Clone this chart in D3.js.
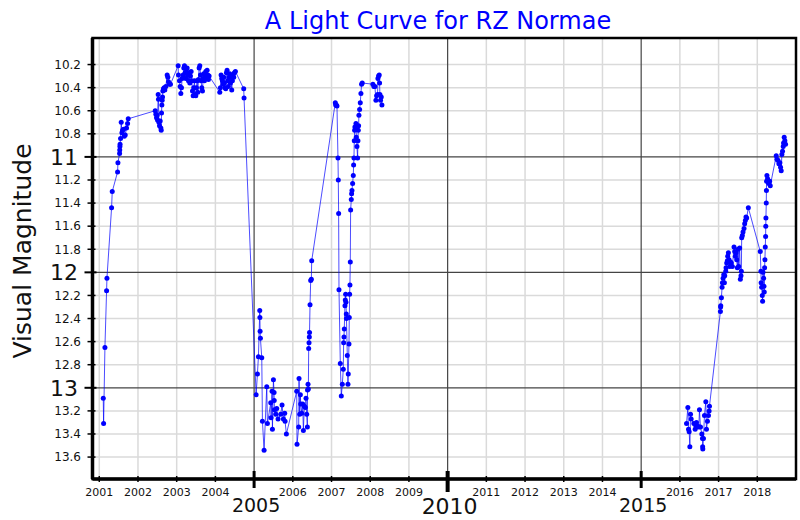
<!DOCTYPE html>
<html><head><meta charset="utf-8">
<script src="https://cdn.jsdelivr.net/npm/d3@7"></script>
<style>body{margin:0;background:#fff}svg{display:block}</style>
</head><body><svg id="c" width="800" height="520"></svg>
<script>
// ---- Data: observation epochs (decimal year) and visual magnitudes ----
const epochA_year = [
 2001.103,2001.112,2001.146,2001.189,2001.198,2001.318,2001.335,2001.473,2001.482,2001.525,2001.529,2001.533,2001.537,2001.550,2001.567,2001.585,2001.602,2001.628,2001.645,2001.671,2001.705,2001.731,2001.748,
 2002.445,2002.462,2002.479,2002.495,2002.505,2002.522,2002.530,2002.539,2002.556,2002.574,2002.591,2002.600,2002.608,2002.617,2002.625,2002.634,2002.642,2002.659,2002.677,2002.694,2002.720,2002.754,2002.771,2002.788,2002.814,2002.840,
 2003.038,2003.046,2003.072,2003.089,2003.107,2003.124,2003.141,2003.167,2003.184,2003.201,2003.218,2003.236,2003.253,2003.270,2003.287,2003.304,2003.322,2003.339,2003.356,2003.373,2003.390,2003.408,2003.425,2003.442,2003.459,2003.476,2003.494,2003.511,2003.528,2003.545,2003.562,2003.580,2003.597,2003.614,2003.631,2003.648,2003.666,2003.683,2003.700,2003.717,2003.734,2003.752,2003.769,2003.786,2003.803,2003.820,2003.838,
 2004.113,2004.130,2004.147,2004.164,2004.181,2004.199,2004.216,2004.233,2004.250,2004.267,2004.285,2004.302,2004.319,2004.336,2004.353,2004.371,2004.388,2004.405,2004.422,2004.439,2004.457,2004.474,2004.491,2004.517,2004.732,2004.740,
 2005.052,2005.086,2005.112,2005.146,2005.150,2005.155,2005.163,2005.198,2005.215,2005.258,2005.327,2005.344,2005.430,2005.439,2005.464,2005.473,2005.499,2005.516,2005.520,2005.525,2005.559,2005.585,2005.619,2005.688,2005.722,2005.757,2005.791,2005.800,2005.834,
 2006.101,2006.109,2006.152,2006.161,2006.178,2006.195,2006.204,2006.230,2006.255,2006.273,2006.298,2006.324,2006.341,2006.359,2006.376,2006.380,2006.393,2006.402,2006.410,2006.419,2006.427,2006.432,2006.445,2006.462,2006.479,2006.488,
 2007.098,2007.107,2007.124,2007.141,2007.167,2007.175,2007.184,2007.193,2007.227,2007.253,2007.279,2007.304,2007.313,2007.322,2007.330,2007.347,2007.356,2007.365,2007.373,2007.382,2007.386,2007.408,2007.425,2007.433,2007.451,2007.459,2007.468,2007.476,2007.485,2007.494,2007.511,2007.519,2007.528,2007.545,2007.562,2007.571,2007.580,2007.588,2007.597,2007.605,2007.623,2007.631,2007.640,2007.657,2007.674,2007.683,2007.691,2007.700,2007.708,2007.726,2007.743,2007.760,2007.777,2007.794,
 2008.069,2008.095,2008.121,2008.147,2008.164,2008.190,2008.199,2008.216,2008.233,2008.242,2008.250,2008.267,2008.285,2008.302
];
const epochA_mag = [
 13.09,13.31,12.65,12.16,12.05,11.44,11.30,11.13,11.05,10.97,10.94,10.91,10.89,10.84,10.70,10.79,10.77,10.76,10.82,10.81,10.75,10.71,10.67,
 10.60,10.63,10.66,10.64,10.68,10.46,10.50,10.70,10.73,10.69,10.75,10.77,10.62,10.55,10.51,10.48,10.43,10.41,10.40,10.42,10.39,10.29,10.31,10.35,10.37,10.37,
 10.21,10.29,10.34,10.39,10.45,10.40,10.32,10.29,10.23,10.21,10.27,10.32,10.26,10.23,10.29,10.34,10.27,10.36,10.30,10.26,10.34,10.43,10.47,10.40,10.34,10.46,10.47,10.40,10.34,10.44,10.33,10.23,10.21,10.29,10.34,10.40,10.43,10.32,10.28,10.34,10.30,10.26,10.31,10.25,10.29,10.33,10.30,
 10.44,10.40,10.29,10.32,10.34,10.37,10.31,10.36,10.40,10.41,10.27,10.25,10.34,10.39,10.31,10.28,10.36,10.31,10.42,10.34,10.29,10.31,10.27,10.26,10.41,10.49,
 13.06,12.88,12.73,12.33,12.39,12.51,12.57,12.74,13.29,13.54,12.99,13.31,13.13,13.26,13.03,13.36,12.93,13.04,13.11,13.19,13.23,13.18,13.27,13.23,13.15,13.27,13.22,13.29,13.40,
 13.03,13.49,13.34,12.92,13.23,13.06,13.14,13.22,13.14,13.37,13.16,13.17,13.09,13.23,13.34,13.02,12.97,13.01,12.66,12.61,12.56,12.52,12.28,12.07,12.06,11.90,
 10.53,10.55,10.55,10.56,11.01,11.20,11.49,12.15,12.79,13.07,12.97,12.84,12.61,12.56,12.49,12.29,12.24,12.19,12.26,12.36,12.40,12.72,12.97,12.88,12.62,12.39,12.19,12.11,11.91,11.46,11.37,11.32,11.29,11.23,11.16,11.07,11.01,10.86,10.77,10.74,10.76,10.71,10.83,10.91,11.01,10.86,10.77,10.73,10.64,10.59,10.53,10.45,10.37,10.36,
 10.37,10.39,10.39,10.51,10.47,10.46,10.32,10.30,10.29,10.36,10.46,10.51,10.48,10.55
];
const epochB_year = [
 2016.172,2016.206,2016.223,2016.240,2016.258,2016.275,2016.292,2016.361,2016.395,2016.412,2016.429,2016.455,2016.489,2016.506,2016.532,2016.567,2016.584,2016.588,2016.592,2016.609,2016.635,2016.670,2016.687,2016.712,2016.738,2016.755,2016.764,
 2017.047,2017.052,2017.056,2017.073,2017.090,2017.099,2017.116,2017.133,2017.150,2017.159,2017.185,2017.193,2017.210,2017.227,2017.236,2017.253,2017.270,2017.288,2017.305,2017.330,2017.356,2017.399,2017.416,2017.433,2017.451,2017.468,2017.485,2017.502,2017.519,2017.545,2017.562,2017.579,2017.588,2017.597,2017.614,2017.631,2017.657,2017.674,2017.691,2017.708,2017.725,2017.768,
 2018.077,2018.094,2018.099,2018.112,2018.129,2018.137,2018.146,2018.163,2018.172,2018.180,2018.189,2018.197,2018.206,2018.215,2018.219,2018.223,2018.232,2018.236,2018.240,2018.249,2018.266,2018.283,2018.300,2018.318,2018.335,2018.489,2018.506,2018.532,2018.558,2018.584,2018.601,2018.618,2018.635,2018.652,2018.670,2018.678,2018.695,2018.712,2018.730
];
const epochB_mag = [
 13.31,13.17,13.36,13.38,13.51,13.23,13.27,13.31,13.36,13.33,13.30,13.33,13.34,13.19,13.34,13.40,13.44,13.51,13.53,13.44,13.24,13.12,13.36,13.29,13.24,13.20,13.16,
 12.34,12.30,12.29,12.22,12.13,12.09,12.05,12.02,12.09,12.03,11.99,11.96,11.92,11.90,11.86,11.83,11.89,11.95,11.91,11.92,11.95,11.78,11.82,11.86,11.83,11.89,11.96,11.80,11.95,11.79,12.06,12.03,11.99,11.70,11.68,11.65,11.62,11.58,11.55,11.52,11.53,11.44,
 11.82,11.99,12.09,12.13,12.20,12.25,12.00,12.05,12.12,12.17,11.96,11.89,11.78,11.69,11.60,11.53,11.40,11.29,11.21,11.16,11.19,11.22,11.23,11.21,11.25,10.99,11.02,11.03,11.06,11.05,11.09,11.12,10.98,10.95,10.91,10.88,10.83,10.86,10.89
];
const xTickYears = [2001,2002,2003,2004,2005,2006,2007,2008,2009,2010,2011,2012,2013,2014,2015,2016,2017,2018];
const xMajorYears = [2005, 2010, 2015];
const yTickMags = [10.2,10.4,10.6,10.8,11,11.2,11.4,11.6,11.8,12,12.2,12.4,12.6,12.8,13,13.2,13.4,13.6];
const yMajorMags = [11, 12, 13];
const titleText = "A Light Curve for RZ Normae";
const yLabelText = "Visual Magnitude";

// ---- Layout ----
const L = 92.5, R = 796, T = 38, B = 479;
const svg = d3.select("#c");
const FONT = "DejaVu Sans, sans-serif";
const x = d3.scaleLinear().domain([2000.825, 2019.0]).range([L, R]);
const y = d3.scaleLinear().domain([9.97, 13.79]).range([T, B]);
const isMajX = v => xMajorYears.includes(v);
const isMajY = v => yMajorMags.some(m => Math.abs(m - v) < 1e-6);

const g = svg.append("g");
// minor grid
g.selectAll(".gxm").data(xTickYears.filter(v => !isMajX(v))).join("line")
  .attr("x1", d => x(d)).attr("x2", d => x(d)).attr("y1", T).attr("y2", B)
  .attr("stroke", "#dadada").attr("stroke-width", 1.5);
g.selectAll(".gym").data(yTickMags.filter(v => !isMajY(v))).join("line")
  .attr("x1", L).attr("x2", R).attr("y1", d => y(d)).attr("y2", d => y(d))
  .attr("stroke", "#dadada").attr("stroke-width", 1.5);
// major grid
g.selectAll(".gxM").data(xMajorYears).join("line")
  .attr("x1", d => x(d)).attr("x2", d => x(d)).attr("y1", T).attr("y2", B)
  .attr("stroke", "#444").attr("stroke-width", 1.2);
g.selectAll(".gyM").data(yMajorMags).join("line")
  .attr("x1", L).attr("x2", R).attr("y1", d => y(d)).attr("y2", d => y(d))
  .attr("stroke", "#444").attr("stroke-width", 1.2);

// data
const seriesA = epochA_year.map((t, i) => [t, epochA_mag[i]]);
const seriesB = epochB_year.map((t, i) => [t, epochB_mag[i]]);
const line = d3.line().x(d => x(d[0])).y(d => y(d[1]));
[seriesA, seriesB].forEach(s => {
  g.append("path").datum(s).attr("d", line).attr("fill", "none")
    .attr("stroke", "#0000ff").attr("stroke-opacity", 0.7).attr("stroke-width", 1);
  g.append("g").selectAll("circle").data(s).join("circle")
    .attr("cx", d => x(d[0])).attr("cy", d => y(d[1])).attr("r", 2.5).attr("fill", "#0000ff");
});

// frame
g.append("rect").attr("x", L).attr("y", T).attr("width", R - L).attr("height", B - T)
  .attr("fill", "none").attr("stroke", "#000").attr("stroke-width", 2.5);
g.append("line").attr("x1", L).attr("x2", L).attr("y1", T).attr("y2", B).attr("stroke", "#000").attr("stroke-width", 3.5);
g.append("line").attr("x1", L).attr("x2", R).attr("y1", B).attr("y2", B).attr("stroke", "#000").attr("stroke-width", 3.5);

// y ticks
yTickMags.forEach(v => {
  const maj = isMajY(v);
  g.append("line").attr("x1", L - (maj ? 8 : 5)).attr("x2", L + (maj ? 4 : 3))
    .attr("y1", y(v)).attr("y2", y(v)).attr("stroke", "#000").attr("stroke-width", maj ? 2 : 1.5);
  g.append("text").attr("x", maj ? 78 : 81).attr("y", y(v)).attr("dy", "0.36em")
    .attr("text-anchor", "end").attr("font-family", FONT).attr("font-size", maj ? 22 : 12)
    .attr("fill", "#111").text(maj ? d3.format("d")(v) : d3.format(".1f")(v));
});
// x ticks
xTickYears.forEach(v => {
  const maj = isMajX(v);
  const big = v === 2010;
  g.append("line").attr("x1", x(v)).attr("x2", x(v))
    .attr("y1", B - (maj ? 8 : 3)).attr("y2", B + (maj ? (big ? 13 : 9) : 3))
    .attr("stroke", "#000").attr("stroke-width", maj ? (big ? 4 : 3) : 1.5);
  g.append("text").attr("x", x(v) + (maj ? 2 : 0)).attr("y", maj ? (big ? 514 : 512) : 496)
    .attr("text-anchor", "middle").attr("font-family", FONT)
    .attr("font-size", maj ? (big ? 22 : 19) : 11).attr("fill", "#111").text(v);
});

// title & axis label
svg.append("text").attr("x", 438).attr("y", 29).attr("text-anchor", "middle")
  .attr("font-family", FONT).attr("font-size", 24).attr("fill", "#0000ff").text(titleText);
svg.append("text").attr("transform", "translate(31,251) rotate(-90)").attr("text-anchor", "middle")
  .attr("font-family", FONT).attr("font-size", 25).attr("fill", "#111").text(yLabelText);
</script></body></html>
